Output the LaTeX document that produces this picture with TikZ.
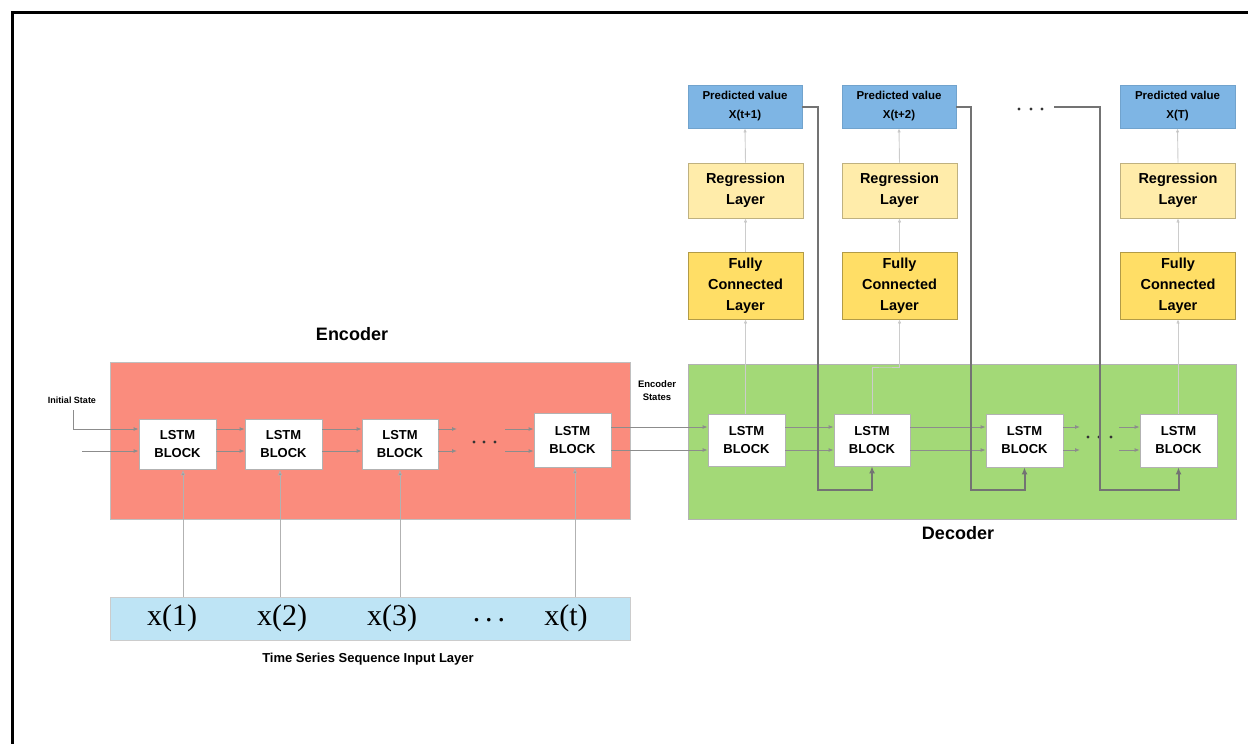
\documentclass[tikz,border=0pt]{standalone}
\usepackage{fontspec}
\setmainfont{Liberation Sans}
\newfontfamily\timesf{Liberation Serif}
\usetikzlibrary{arrows.meta,calc}
\definecolor{encred}{HTML}{FA8C7D}
\definecolor{decgreen}{HTML}{A3D977}
\definecolor{inblue}{HTML}{BEE4F5}
\definecolor{predblue}{HTML}{7EB5E4}
\definecolor{regyel}{HTML}{FFECAA}
\definecolor{fcyel}{HTML}{FFDE66}
\begin{document}
\begin{tikzpicture}[x=1pt,y=-1pt,
  lstm/.style={draw=black!30, fill=white, line width=0.8pt, inner sep=0pt,
    font=\fontsize{13}{18}\selectfont\bfseries, align=center},
  region/.style={inner sep=0pt, line width=0.8pt},
  stackbox/.style={inner sep=0pt, align=center, line width=0.8pt},
  arr/.style={draw=black!45, line width=0.9pt, -{Latex[length=5pt,width=4pt]}},
  inarr/.style={draw=black!30, line width=0.9pt, -{Latex[length=6pt,width=4.5pt,fill=black!55]}},
  varr/.style={draw=black!20, line width=0.9pt, -{Latex[length=4pt,width=3.5pt,fill=black!55]}},
  fb/.style={draw=black!55, line width=2pt, -{Latex[length=7pt,width=6pt]}},
  lbl/.style={inner sep=0pt, font=\bfseries}
]
\useasboundingbox (0,0) rectangle (1248,744);
% frame
\draw[line width=2.6pt] (1248,12.5) -- (12.5,12.5) -- (12.5,744);

% regions
\node[region, draw=black!25, fill=encred, minimum width=520pt, minimum height=157pt] (enc) at (370,440.5) {};
\node[region, draw=black!30, fill=decgreen, minimum width=548pt, minimum height=155pt] (dec) at (962,441.5) {};
\node[region, draw=black!20, fill=inblue, minimum width=520pt, minimum height=43pt] (inp) at (370,618.5) {};

% labels
\node[lbl, font=\fontsize{18}{20}\selectfont\bfseries] (enclbl) at (352,334) {Encoder};
\node[lbl, font=\fontsize{18}{20}\selectfont\bfseries] (declbl) at (958,533) {Decoder};
\node[lbl, font=\fontsize{13}{15}\selectfont\bfseries] (inlbl) at (368,659) {Time Series Sequence Input Layer};
\node[lbl, font=\fontsize{9}{11}\selectfont\bfseries] (islbl) at (72,400) {Initial State};
\node[lbl, align=center, font=\fontsize{9.5}{13}\selectfont\bfseries] (eslbl) at (657,391) {Encoder\\States};

% input values
\node[inner sep=0pt, font=\fontsize{30}{32}\selectfont\timesf] (x1) at (172,618) {x(1)};
\node[inner sep=0pt, font=\fontsize{30}{32}\selectfont\timesf] (x2) at (282,618) {x(2)};
\node[inner sep=0pt, font=\fontsize{30}{32}\selectfont\timesf] (x3) at (392,618) {x(3)};
\node[inner sep=0pt, font=\fontsize{30}{32}\selectfont\timesf] (xd) at (489,620) {.\,.\,.};
\node[inner sep=0pt, font=\fontsize{30}{32}\selectfont\timesf] (xt) at (566,618) {x(t)};

% encoder blocks
\node[lstm, minimum width=77pt, minimum height=50pt] (E1) at (177.5,444) {LSTM\\BLOCK};
\node[lstm, minimum width=77pt, minimum height=50pt] (E2) at (283.5,444) {LSTM\\BLOCK};
\node[lstm, minimum width=76pt, minimum height=50pt] (E3) at (400,444) {LSTM\\BLOCK};
\node[lstm, minimum width=77pt, minimum height=54pt] (E4) at (572.5,440) {LSTM\\BLOCK};

% decoder blocks
\node[lstm, minimum width=77pt, minimum height=52pt] (D1) at (746.5,440) {LSTM\\BLOCK};
\node[lstm, minimum width=76pt, minimum height=52pt] (D2) at (872,440) {LSTM\\BLOCK};
\node[lstm, minimum width=77pt, minimum height=53pt] (D3) at (1024.5,440.5) {LSTM\\BLOCK};
\node[lstm, minimum width=77pt, minimum height=53pt] (D4) at (1178.5,440.5) {LSTM\\BLOCK};

% output stacks
\foreach \n/\x/\w/\t in {1/745/114/X(t+1), 2/899/114/X(t+2), 3/1177.5/115/X(T)}{
  \node[stackbox, fill=predblue, draw=predblue!90!black, minimum width=\w pt, minimum height=43pt,
        font=\fontsize{11.5}{19}\selectfont\bfseries] (P\n) at (\x,106.5) {Predicted value\\\t};
  \node[stackbox, fill=regyel, draw=regyel!75!black, minimum width=115pt, minimum height=55pt,
        font=\fontsize{14.5}{21}\selectfont\bfseries] (R\n) at (\x+0.5,190.5) {Regression\\Layer};
  \node[stackbox, fill=fcyel, draw=fcyel!70!black, minimum width=115pt, minimum height=67pt,
        font=\fontsize{14.5}{21}\selectfont\bfseries] (F\n) at (\x+0.5,285.5) {Fully\\Connected\\Layer};
  \draw[varr] (F\n.north) -- (R\n.south);
  \draw[varr] (R\n.north) -- (P\n.south);
}

% row coordinates
\coordinate (ea) at (0,429);
\coordinate (eb) at (0,451);
\coordinate (da) at (0,427);
\coordinate (db) at (0,450);

% initial state
\coordinate (is1) at (73,410);
\coordinate (is2) at (82,451);
\draw[arr] (is1) |- (E1.west |- ea);
\draw[arr] (is2) -- (E1.west |- eb);

% encoder chain
\draw[arr] (E1.east |- ea) -- (E2.west |- ea);
\draw[arr] (E1.east |- eb) -- (E2.west |- eb);
\draw[arr] (E2.east |- ea) -- (E3.west |- ea);
\draw[arr] (E2.east |- eb) -- (E3.west |- eb);
\coordinate (g1a) at (457,429);
\coordinate (g1b) at (457,451);
\coordinate (g2a) at (505,429);
\coordinate (g2b) at (505,451);
\draw[arr] (E3.east |- ea) -- (g1a);
\draw[arr] (E3.east |- eb) -- (g1b);
\draw[arr] (g2a) -- (E4.west |- ea);
\draw[arr] (g2b) -- (E4.west |- eb);
\fill[black!80] (474,442) circle (1.6) (484,442) circle (1.6) (495,442) circle (1.6);

% encoder states to decoder
\draw[arr] (E4.east |- da) -- (D1.west |- da);
\draw[arr] (E4.east |- db) -- (D1.west |- db);

% decoder chain
\draw[arr] (D1.east |- da) -- (D2.west |- da);
\draw[arr] (D1.east |- db) -- (D2.west |- db);
\draw[arr] (D2.east |- da) -- (D3.west |- da);
\draw[arr] (D2.east |- db) -- (D3.west |- db);
\coordinate (h1a) at (1080,427);
\coordinate (h1b) at (1080,450);
\coordinate (h2a) at (1119,427);
\coordinate (h2b) at (1119,450);
\draw[arr] (D3.east |- da) -- (h1a);
\draw[arr] (D3.east |- db) -- (h1b);
\draw[arr] (h2a) -- (D4.west |- da);
\draw[arr] (h2b) -- (D4.west |- db);
\fill[black!80] (1088,437) circle (1.6) (1099,437) circle (1.6) (1111,437) circle (1.6);

% inputs to encoder
\coordinate (c1) at (183,0);
\coordinate (c2) at (280,0);
\coordinate (c3) at (400,0);
\coordinate (c4) at (575,0);
\draw[inarr] (inp.north -| c1) -- (E1.south -| c1);
\draw[inarr] (inp.north -| c2) -- (E2.south -| c2);
\draw[inarr] (inp.north -| c3) -- (E3.south -| c3);
\draw[inarr] (inp.north -| c4) -- (E4.south -| c4);

% decoder to output stacks
\draw[varr] (D1.north -| F1.south) -- (F1.south);
\coordinate (j2) at (885,367);
\draw[varr] (D2.north) |- (j2) -| (F2.south);
\draw[varr] (D4.north -| F3.south) -- (F3.south);

% feedback lines
\coordinate (fb1) at (818,490);
\coordinate (fb2) at (971,490);
\coordinate (fb3) at (1100,490);
\coordinate (q3) at (1054,107);
\draw[fb] (P1.east) -| (fb1) -| (D2.south);
\draw[fb] (P2.east) -| (fb2) -| (D3.south);
\draw[fb] (q3) -| (fb3) -| (D4.south);
\fill[black!80] (1019,109) circle (1.6) (1031,109) circle (1.6) (1042,109) circle (1.6);
\end{tikzpicture}
\end{document}
